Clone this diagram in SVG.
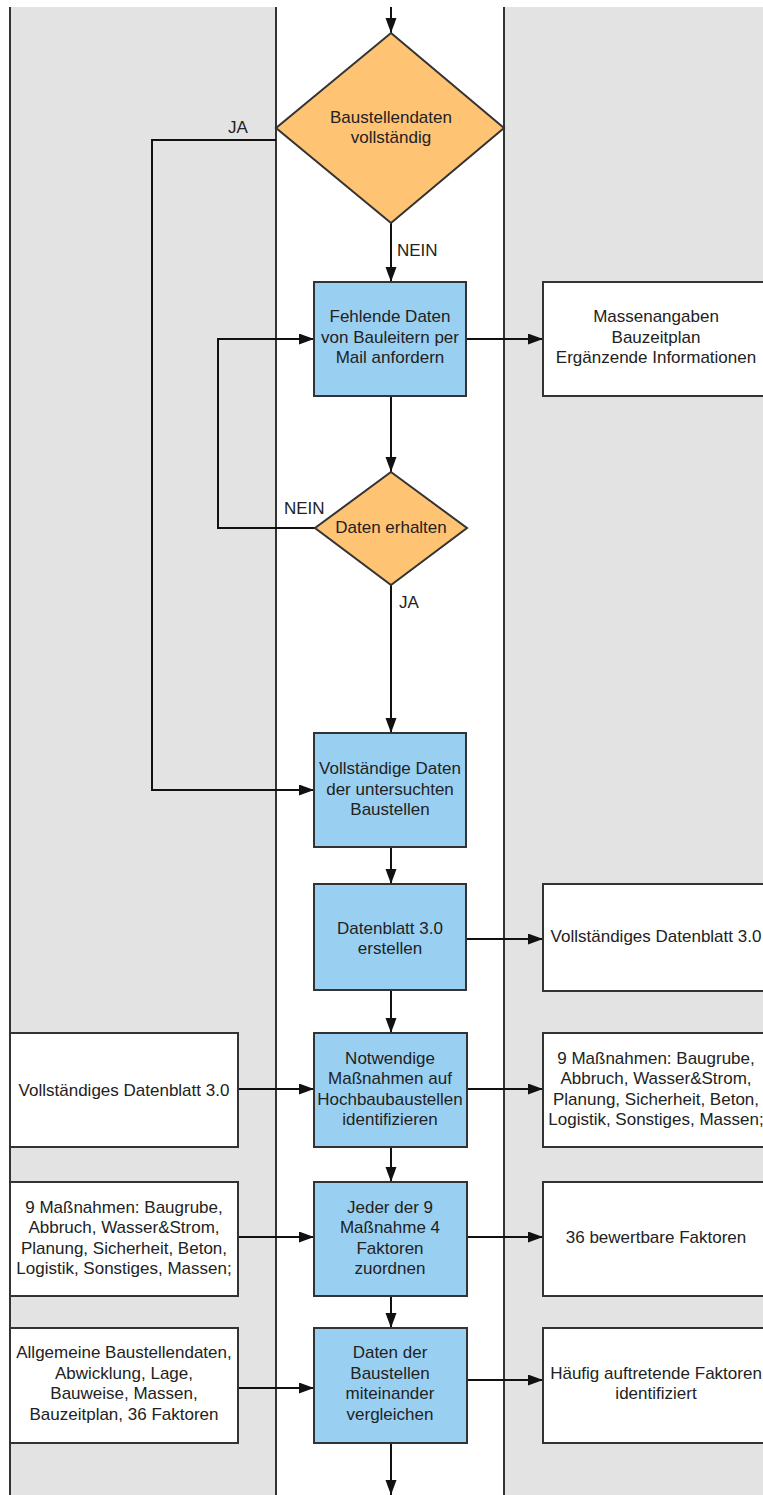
<svg xmlns="http://www.w3.org/2000/svg" width="763" height="1495" viewBox="0 0 763 1495">
<style>
.lane{fill:#e3e3e3;stroke:none}
.laneline{stroke:#333;stroke-width:2;fill:none}
.proc{fill:#99d0f2;stroke:#333;stroke-width:2}
.dec{fill:#ffc374;stroke:#333;stroke-width:2}
.data{fill:#ffffff;stroke:#333;stroke-width:2}
text{font-family:"Liberation Sans",Arial,sans-serif;font-size:17px;fill:#222;text-anchor:middle}
.lbl{text-anchor:start}
.conn{stroke:#111;stroke-width:2;fill:none;marker-end:url(#ah)}
</style>
<defs>
<marker id="ah" markerUnits="userSpaceOnUse" markerWidth="16" markerHeight="12" refX="15" refY="5.5" orient="auto">
<path d="M0,0 L15,5.5 L0,11 Z" fill="#111"/>
</marker>
</defs>
<rect x="0" y="0" width="763" height="1495" fill="#ffffff"/>
<g id="lanes">
<rect class="lane" x="10" y="7" width="266" height="1488"/>
<rect class="lane" x="504" y="7" width="259" height="1488"/>
<line class="laneline" x1="10" y1="7" x2="10" y2="1495"/>
<line class="laneline" x1="276" y1="7" x2="276" y2="1495"/>
<line class="laneline" x1="504" y1="7" x2="504" y2="1495"/>
</g>
<g id="connectors">
<line class="conn" x1="391" y1="7" x2="391" y2="33"/>
<line class="conn" x1="391" y1="223" x2="391" y2="282"/>
<polyline class="conn" points="276,140 152,140 152,790 314,790"/>
<line class="conn" x1="466" y1="339" x2="543" y2="339"/>
<line class="conn" x1="391" y1="396" x2="391" y2="472"/>
<polyline class="conn" points="315,528 218,528 218,339 314,339"/>
<line class="conn" x1="391" y1="585" x2="391" y2="733"/>
<line class="conn" x1="391" y1="847" x2="391" y2="884"/>
<line class="conn" x1="466" y1="939" x2="543" y2="939"/>
<line class="conn" x1="391" y1="990" x2="391" y2="1033"/>
<line class="conn" x1="238" y1="1089" x2="314" y2="1089"/>
<line class="conn" x1="467" y1="1089" x2="543" y2="1089"/>
<line class="conn" x1="391" y1="1147" x2="391" y2="1182"/>
<line class="conn" x1="238" y1="1237" x2="314" y2="1237"/>
<line class="conn" x1="467" y1="1237" x2="543" y2="1237"/>
<line class="conn" x1="391" y1="1296" x2="391" y2="1328"/>
<line class="conn" x1="238" y1="1388" x2="314" y2="1388"/>
<line class="conn" x1="467" y1="1380" x2="543" y2="1380"/>
<line class="conn" x1="391" y1="1443" x2="391" y2="1495"/>
<text class="lbl" x="228" y="133">JA</text>
<text class="lbl" x="397" y="256">NEIN</text>
<text class="lbl" x="284" y="514">NEIN</text>
<text class="lbl" x="399" y="608">JA</text>
</g>
<g id="d1">
<polygon class="dec" points="391,33 504,128 391,223 276,128"/>
<text x="391" y="123">Baustellendaten</text>
<text x="391" y="143">vollständig</text>
</g>
<g id="b1">
<rect class="proc" x="314" y="282" width="152" height="114"/>
<text x="390" y="322">Fehlende Daten</text>
<text x="390" y="343">von Bauleitern per</text>
<text x="390" y="363">Mail anfordern</text>
</g>
<g id="r1">
<rect class="data" x="543" y="282" width="226" height="114"/>
<text x="656" y="322">Massenangaben</text>
<text x="656" y="343">Bauzeitplan</text>
<text x="656" y="363">Ergänzende Informationen</text>
</g>
<g id="d2">
<polygon class="dec" points="391,472 467,528 391,585 315,528"/>
<text x="391" y="533">Daten erhalten</text>
</g>
<g id="b3">
<rect class="proc" x="314" y="733" width="152" height="114"/>
<text x="390" y="774">Vollständige Daten</text>
<text x="390" y="795">der untersuchten</text>
<text x="390" y="815">Baustellen</text>
</g>
<g id="b4">
<rect class="proc" x="314" y="884" width="152" height="106"/>
<text x="390" y="934">Datenblatt 3.0</text>
<text x="390" y="954">erstellen</text>
</g>
<g id="r4">
<rect class="data" x="543" y="884" width="226" height="107"/>
<text x="656" y="942">Vollständiges Datenblatt 3.0</text>
</g>
<g id="b5">
<rect class="proc" x="314" y="1033" width="153" height="114"/>
<text x="390" y="1064">Notwendige</text>
<text x="390" y="1084">Maßnahmen auf</text>
<text x="390" y="1105">Hochbaubaustellen</text>
<text x="390" y="1125">identifizieren</text>
</g>
<g id="l5">
<rect class="data" x="10" y="1033" width="228" height="114"/>
<text x="124" y="1096">Vollständiges Datenblatt 3.0</text>
</g>
<g id="r5">
<rect class="data" x="543" y="1033" width="226" height="114"/>
<text x="656" y="1064">9 Maßnahmen: Baugrube,</text>
<text x="656" y="1084">Abbruch, Wasser&amp;Strom,</text>
<text x="656" y="1105">Planung, Sicherheit, Beton,</text>
<text x="656" y="1125">Logistik, Sonstiges, Massen;</text>
</g>
<g id="b6">
<rect class="proc" x="314" y="1182" width="153" height="114"/>
<text x="390" y="1213">Jeder der 9</text>
<text x="390" y="1233">Maßnahme 4</text>
<text x="390" y="1254">Faktoren</text>
<text x="390" y="1274">zuordnen</text>
</g>
<g id="l6">
<rect class="data" x="10" y="1182" width="228" height="114"/>
<text x="124" y="1213">9 Maßnahmen: Baugrube,</text>
<text x="124" y="1233">Abbruch, Wasser&amp;Strom,</text>
<text x="124" y="1254">Planung, Sicherheit, Beton,</text>
<text x="124" y="1274">Logistik, Sonstiges, Massen;</text>
</g>
<g id="r6">
<rect class="data" x="543" y="1182" width="226" height="114"/>
<text x="656" y="1243">36 bewertbare Faktoren</text>
</g>
<g id="b7">
<rect class="proc" x="314" y="1328" width="153" height="115"/>
<text x="390" y="1358">Daten der</text>
<text x="390" y="1379">Baustellen</text>
<text x="390" y="1399">miteinander</text>
<text x="390" y="1420">vergleichen</text>
</g>
<g id="l7">
<rect class="data" x="10" y="1328" width="228" height="115"/>
<text x="124" y="1358">Allgemeine Baustellendaten,</text>
<text x="124" y="1379">Abwicklung, Lage,</text>
<text x="124" y="1399">Bauweise, Massen,</text>
<text x="124" y="1420">Bauzeitplan, 36 Faktoren</text>
</g>
<g id="r7">
<rect class="data" x="543" y="1328" width="226" height="115"/>
<text x="656" y="1379">Häufig auftretende Faktoren</text>
<text x="656" y="1399">identifiziert</text>
</g>
</svg>
